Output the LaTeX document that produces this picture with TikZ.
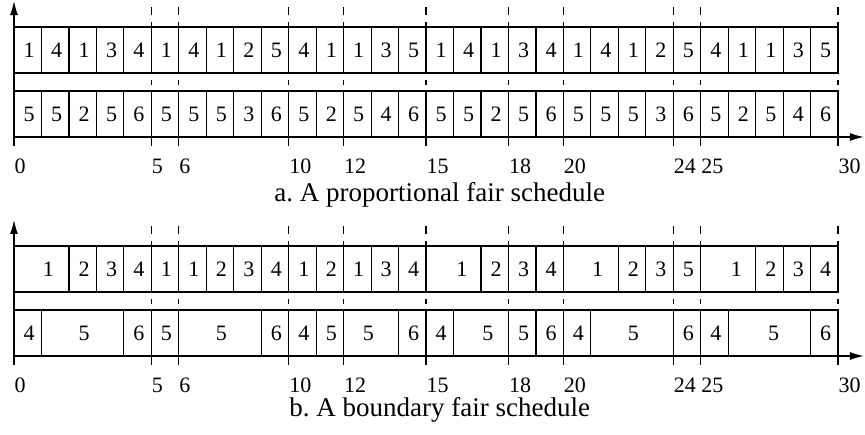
\documentclass[tikz,border=0pt]{standalone}
\usepackage{fontspec}
\setmainfont{Liberation Serif}
\usetikzlibrary{arrows.meta}
\tikzset{
  slot/.style={draw},
  num/.style={font=\fontsize{11}{13}\selectfont,inner sep=0pt},
  capt/.style={font=\fontsize{13.5}{16}\selectfont,inner sep=0pt},
  axis/.style={-{Latex[length=7pt,width=4pt]}}
}
% time axis, tick guides and tick labels of one schedule
\newcommand\timeaxis[1]{%
  \coordinate (#1o) at (0,0); \coordinate (#1x) at (30.94,0);
  \coordinate (#1b) at (0,-9); \coordinate (#1y) at (0,136);
  \draw[axis] (#1o)--(#1x); \draw[axis] (#1b)--(#1y);
  \foreach \t in {5,6,10,12,15,18,20,24,25,30}
    \draw (\t,-9)--(\t,0) (\t,52)--(\t,57) (\t,110)--(\t,115) (\t,122)--(\t,130);
  \foreach \t in {0,5,6,10,12,15,18,20,24,25,30}
    \node[num,anchor=base west] (#1\t) at (\t,-37) {\t};
}
\begin{document}
\begin{tikzpicture}[x=13.735pt,y=.5pt,line width=.6pt]
  \useasboundingbox (-.5097,-298) rectangle (30.98,137);
  % a. proportional fair
  \timeaxis{a}
  \foreach \v [count=\i] in {1,4,1,3,4,1,4,1,2,5,4,1,1,3,5,1,4,1,3,4,1,4,1,2,5,4,1,1,3,5}
    {\draw[slot] (\i-1,64) rectangle (\i,110); \node[num] (pa\i) at (\i-.45,87) {\v};}
  \foreach \v [count=\i] in {5,5,2,5,6,5,5,5,3,6,5,2,5,4,6,5,5,2,5,6,5,5,5,3,6,5,2,5,4,6}
    {\draw[slot] (\i-1,0) rectangle (\i,46); \node[num] (qa\i) at (\i-.45,23) {\v};}
  \node[capt,anchor=base] (capa) at (15.5,-65) {a.\ A proportional fair schedule};
  % b. boundary fair
  \begin{scope}[yshift=-109.5pt]
    \timeaxis{b}
    \foreach \s/\e/\m/\v [count=\i] in {0/2/1.2/1,2/3/2.5/2,3/4/3.5/3,4/5/4.5/4,5/6/5.5/1,
        6/7/6.5/1,7/8/7.5/2,8/9/8.5/3,9/10/9.5/4,10/11/10.5/1,11/12/11.5/2,12/13/12.5/1,
        13/14/13.5/3,14/15/14.5/4,15/17/16.25/1,17/18/17.5/2,18/19/18.5/3,19/20/19.5/4,
        20/22/21.2/1,22/23/22.5/2,23/24/23.5/3,24/25/24.5/5,25/27/26.25/1,27/28/27.5/2,
        28/29/28.5/3,29/30/29.5/4}
      {\draw[slot] (\s,64) rectangle (\e,110); \node[num] (pb\i) at (\m+.05,87) {\v};}
    \foreach \s/\e/\m/\v [count=\i] in {0/1/.5/4,1/4/2.5/5,4/5/4.5/6,5/6/5.5/5,6/9/7.5/5,
        9/10/9.5/6,10/11/10.5/4,11/12/11.5/5,12/14/12.85/5,14/15/14.5/6,15/16/15.5/4,
        16/18/17.2/5,18/19/18.5/5,19/20/19.5/6,20/21/20.5/4,21/24/22.5/5,24/25/24.5/6,
        25/26/25.5/4,26/29/27.6/5,29/30/29.5/6}
      {\draw[slot] (\s,0) rectangle (\e,46); \node[num] (qb\i) at (\m+.05,23) {\v};}
    \node[capt,anchor=base] (capb) at (15.5,-61) {b.\ A boundary fair schedule};
  \end{scope}
\end{tikzpicture}
\end{document}
